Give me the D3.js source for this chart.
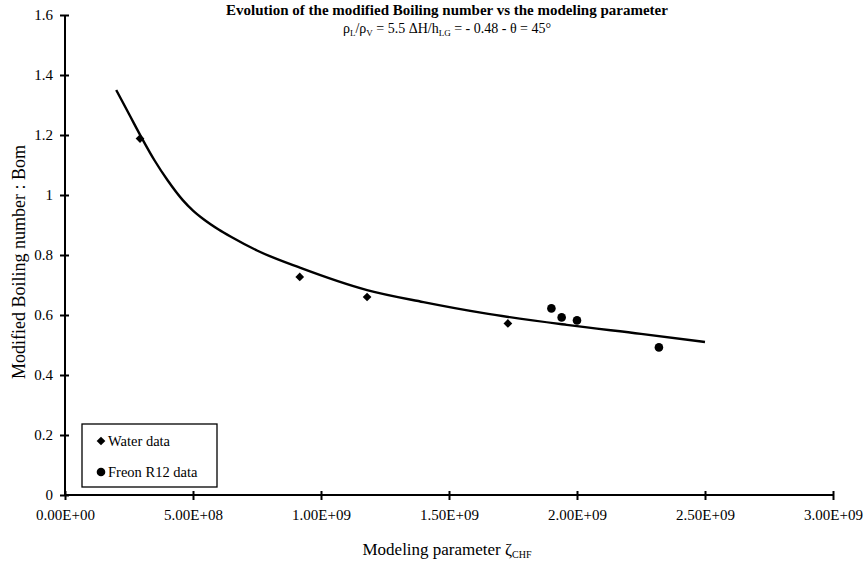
<!DOCTYPE html>
<html>
<head>
<meta charset="utf-8">
<script src="https://cdn.jsdelivr.net/npm/d3@7"></script>
<style>
  body { margin: 0; background: #fff; }
  svg text { font-family: "Liberation Serif", "Times New Roman", serif; fill: #000; }
</style>
</head>
<body>
<svg id="chart" width="864" height="564"></svg>
<script>
(function() {
  // values
  var waterX = [2.93e8, 9.17e8, 1.18e9, 1.73e9];
  var waterY = [1.188, 0.727, 0.66, 0.572];
  var freonX = [1.90e9, 1.94e9, 2.00e9, 2.32e9];
  var freonY = [0.622, 0.592, 0.582, 0.492];
  var fitX = [2.0e8, 2.5e8, 3.0e8, 3.5e8, 4.0e8, 4.6e8, 5.0e8, 5.4e8, 6.0e8, 6.5e8, 7.5e8, 9.2e8, 1.18e9, 1.4e9, 1.63e9, 1.96e9, 2.25e9, 2.5e9];
  var fitY = [1.35, 1.27, 1.19, 1.115, 1.05, 0.983, 0.948, 0.92, 0.885, 0.86, 0.815, 0.757, 0.683, 0.643, 0.607, 0.567, 0.537, 0.51];
  var xTicks = [0, 5e8, 1e9, 1.5e9, 2e9, 2.5e9, 3e9];
  var xTickLabels = ["0.00E+00", "5.00E+08", "1.00E+09", "1.50E+09", "2.00E+09", "2.50E+09", "3.00E+09"];
  var yTicks = [0, 0.2, 0.4, 0.6, 0.8, 1, 1.2, 1.4, 1.6];
  var yTickLabels = ["0", "0.2", "0.4", "0.6", "0.8", "1", "1.2", "1.4", "1.6"];

  var svg = d3.select("svg");
  var serif = "'Liberation Serif', 'Times New Roman', serif";

  var x = d3.scaleLinear().domain([0, 3e9]).range([65, 833]);
  var y = d3.scaleLinear().domain([0, 1.6]).range([495, 15]);

  // title
  svg.append("text")
      .attr("x", 447).attr("y", 15)
      .attr("text-anchor", "middle")
      .attr("font-size", 15).attr("font-weight", "bold")
      .text("Evolution of the modified Boiling number vs the modeling parameter");

  var sub = svg.append("text")
      .attr("x", 447).attr("y", 33)
      .attr("text-anchor", "middle")
      .attr("font-size", 14);
  sub.append("tspan").text("\u03c1");
  sub.append("tspan").attr("font-size", 9).attr("dy", 3).text("L");
  sub.append("tspan").attr("dy", -3).text("/\u03c1");
  sub.append("tspan").attr("font-size", 9).attr("dy", 3).text("V");
  sub.append("tspan").attr("dy", -3).text(" = 5.5 \u0394H/h");
  sub.append("tspan").attr("font-size", 9).attr("dy", 3).text("LG");
  sub.append("tspan").attr("dy", -3).text(" = - 0.48 - \u03b8 = 45\u00b0");

  // axes
  var xAxis = svg.append("g")
      .attr("transform", "translate(0,495)")
      .call(d3.axisBottom(x).tickValues(xTicks).tickSize(5)
        .tickFormat(function(d, i) { return xTickLabels[i]; }));
  var yAxis = svg.append("g")
      .attr("transform", "translate(65,0)")
      .call(d3.axisLeft(y).tickValues(yTicks).tickSize(5)
        .tickFormat(function(d, i) { return yTickLabels[i]; }));

  [xAxis, yAxis].forEach(function(a) {
    a.attr("font-family", serif);
    a.select(".domain").attr("stroke", "#000").attr("stroke-width", 2)
      .attr("d", a === xAxis ? "M65,0H833" : "M0,15V495");
    a.selectAll(".tick line").attr("stroke", "#000").attr("stroke-width", 2);
    a.selectAll(".tick text").attr("font-size", 15).style("font-family", serif);
  });
  xAxis.selectAll(".tick line").attr("y1", -4);
  xAxis.selectAll(".tick text").attr("y", 8).attr("dy", "1.1em");
  yAxis.selectAll(".tick line").attr("x1", 4);
  yAxis.selectAll(".tick text").attr("x", -12);

  // axis titles
  var xt = svg.append("text")
      .attr("x", 447).attr("y", 555)
      .attr("text-anchor", "middle")
      .attr("font-size", 17);
  xt.append("tspan").text("Modeling parameter \u03b6");
  xt.append("tspan").attr("font-size", 10).attr("dy", 3).text("CHF");

  svg.append("text")
      .attr("transform", "translate(25,262) rotate(-90)")
      .attr("text-anchor", "middle")
      .attr("font-size", 18)
      .text("Modified Boiling number : Bom");

  // fit line
  var line = d3.line()
      .x(function(d) { return x(d[0]); })
      .y(function(d) { return y(d[1]); })
      .curve(d3.curveMonotoneX);

  svg.append("path")
      .datum(d3.zip(fitX, fitY))
      .attr("d", line)
      .attr("fill", "none")
      .attr("stroke", "#000")
      .attr("stroke-width", 2.4);

  // square turned 45 degrees
  var diamond = d3.symbol().type(d3.symbolSquare).size(38);

  svg.append("g").selectAll("path")
      .data(d3.zip(waterX, waterY))
      .enter().append("path")
      .attr("d", diamond)
      .attr("transform", function(d) { return "translate(" + x(d[0]) + "," + y(d[1]) + ") rotate(45)"; })
      .attr("fill", "#000");

  svg.append("g").selectAll("circle")
      .data(d3.zip(freonX, freonY))
      .enter().append("circle")
      .attr("cx", function(d) { return x(d[0]); })
      .attr("cy", function(d) { return y(d[1]); })
      .attr("r", 4.3)
      .attr("fill", "#000");

  // legend
  var lg = svg.append("g");
  lg.append("rect")
      .attr("x", 82).attr("y", 424).attr("width", 135).attr("height", 63)
      .attr("fill", "#fff").attr("stroke", "#000").attr("stroke-width", 1.3);
  lg.append("path").attr("d", diamond)
      .attr("transform", "translate(101,441) rotate(45)").attr("fill", "#000");
  lg.append("circle").attr("cx", 101).attr("cy", 472).attr("r", 4.3).attr("fill", "#000");
  lg.append("text").attr("x", 108).attr("y", 446).attr("font-size", 14.5).text("Water data");
  lg.append("text").attr("x", 108).attr("y", 477).attr("font-size", 14.5).text("Freon R12 data");
})();
</script>
</body>
</html>
